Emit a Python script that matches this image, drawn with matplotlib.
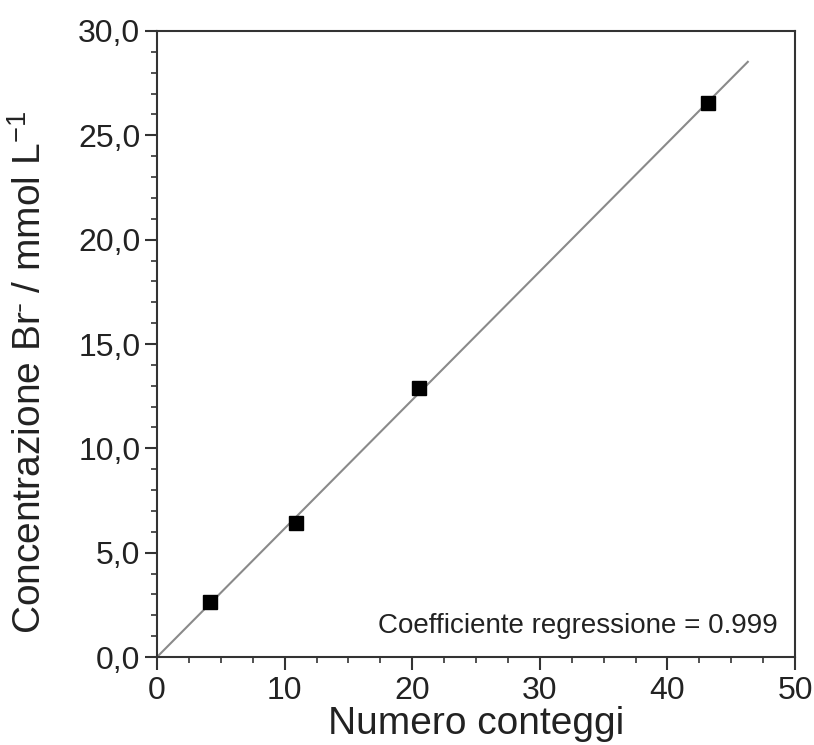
import numpy as np
import matplotlib
matplotlib.use("Agg")
import matplotlib.pyplot as plt
from matplotlib.ticker import MultipleLocator, FuncFormatter

plt.rcParams['font.family'] = ['Liberation Sans', 'DejaVu Sans']
plt.rcParams['mathtext.fontset'] = 'custom'
plt.rcParams['mathtext.rm'] = 'Liberation Sans'
plt.rcParams['mathtext.it'] = 'Liberation Sans'

# Calibration data
conteggi = [4.15, 10.9, 20.5, 43.2]
concentrazione = [2.64, 6.42, 12.9, 26.55]
fit_range = [0.0, 46.3]
r_coeff = "0.999"

x = np.array(conteggi)
y = np.array(concentrazione)
slope = np.sum(x * y) / np.sum(x * x)
fx = np.array(fit_range)

fig = plt.figure(figsize=(8.14, 7.45), dpi=100)
ax = fig.add_axes([0.1929, 0.1181, 0.7838, 0.8403])

ax.plot(fx, slope * fx, color='#8a8a8a', lw=1.5, zorder=2)
ax.plot(x, y, 's', color='black', markersize=10, zorder=3)

ax.set_xlim(0, 50)
ax.set_ylim(0, 30)
ax.xaxis.set_major_locator(MultipleLocator(10))
ax.xaxis.set_minor_locator(MultipleLocator(2.5))
ax.yaxis.set_major_locator(MultipleLocator(5))
ax.yaxis.set_minor_locator(MultipleLocator(1))
ax.yaxis.set_major_formatter(FuncFormatter(lambda v, p: f"{v:.1f}".replace('.', ',')))

for s in ax.spines.values():
    s.set_linewidth(1.5)
    s.set_color('#333333')
ax.tick_params(which='major', direction='out', length=9, width=1.5, color='#333333',
               labelsize=23, pad=3)
ax.tick_params(axis='x', which='major', pad=5)
ax.tick_params(which='minor', direction='out', length=4.5, width=1.2, color='#333333')
ax.tick_params(axis='both', labelcolor='#222222')

ax.set_xlabel("Numero conteggi", fontsize=28, labelpad=0, color='#222222')
ax.set_ylabel(r"Concentrazione Br$^{\bar{\ }}$ / mmol L$^{-1}$", fontsize=28,
              color='#222222')
ax.yaxis.set_label_coords(-0.17, 0.454)

ax.text(48.67, 1.5, f"Coefficiente regressione = {r_coeff}", fontsize=20,
        ha='right', va='center', color='#222222')

fig.savefig("out.png", dpi=100)
